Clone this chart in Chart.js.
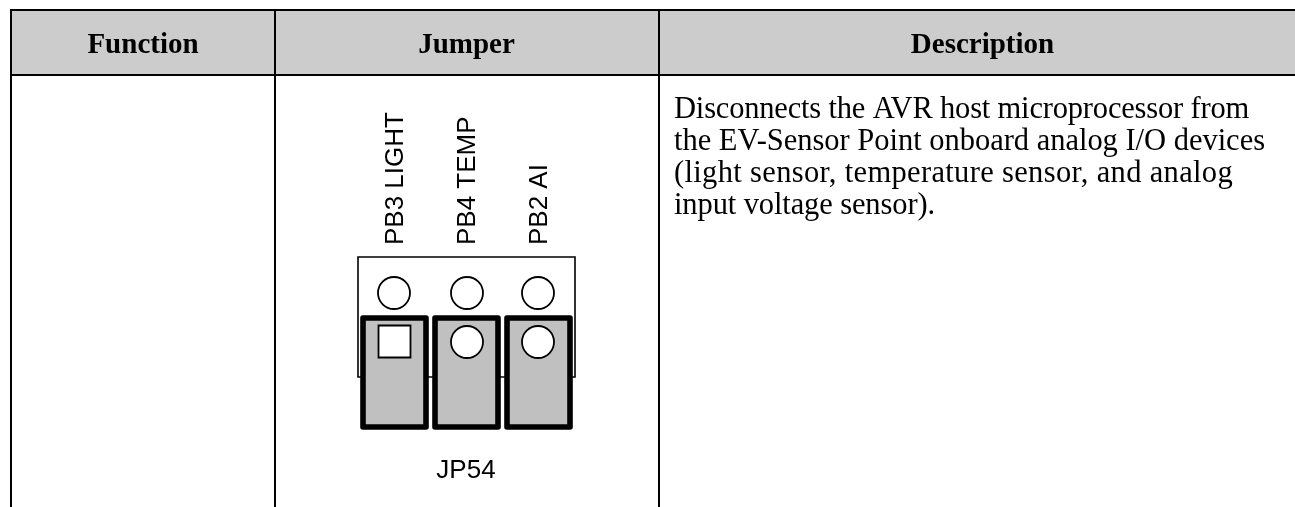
<!DOCTYPE html>
<html>
<head>
<meta charset="utf-8">
<style>html,body{margin:0;padding:0;background:#fff;overflow:hidden}canvas{display:block}</style>
<script src="https://cdn.jsdelivr.net/npm/chart.js@4"></script>
</head>
<body>
<canvas id="c" width="1295" height="507"></canvas>
<script>
const headerLabels = ["Function", "Jumper", "Description"];
const headerCentres = [143, 466.5, 982.5];
const pinLabels = ["PB3 LIGHT", "PB4 TEMP", "PB2 AI"];
const pinLabelBaseX = [403, 475, 547];
const descriptionLines = [
  "Disconnects the AVR host microprocessor from",
  "the EV-Sensor Point onboard analog I/O devices",
  "(light sensor, temperature sensor, and analog",
  "input voltage sensor)."
];
const descriptionBaselines = [118, 150, 182, 214];
const descriptionWidths = [575, 591, 559, 261];
const headerBand = [[11,10],[1295,10],[1295,75],[11,75],[11,10]];
const ruleTop = [[11,10],[1295,10]];
const ruleHeader = [[11,75],[1295,75]];
const ruleLeft = [[11,9],[11,507]];
const ruleMid1 = [[275,9],[275,507]];
const ruleMid2 = [[659,9],[659,507]];
const connector = [[450,257],[575,257],[575,377],[358,377],[358,257],[450,257]];
const upperPads = [[394,293],[467,293],[538,293]];
const shunt1 = [[394,318],[426,318],[426,427],[363,427],[363,318],[394,318]];
const shunt2 = [[466,318],[498,318],[498,427],[435,427],[435,318],[466,318]];
const shunt3 = [[538,318],[570,318],[570,427],[507,427],[507,318],[538,318]];
const lowerPads = [[467,342],[538,342]];
const squarePad = [[394.5,341.5]];

const pts = a => a.map(p => ({x:p[0], y:p[1]}));
const poly = (a, o) => Object.assign({data:pts(a), showLine:true, pointRadius:0, borderColor:'#000', borderWidth:2, fill:false, tension:0, clip:false}, o||{});
const marks = (a, o) => Object.assign({data:pts(a), showLine:false, pointStyle:'circle', pointRadius:16, pointBackgroundColor:'#fff', pointBorderColor:'#000', pointBorderWidth:1.8, clip:false}, o||{});
const drawOrder = [
  poly(headerBand, {fill:'shape', backgroundColor:'#cccccc', borderWidth:0}),
  poly(ruleTop), poly(ruleHeader), poly(ruleLeft), poly(ruleMid1), poly(ruleMid2),
  poly(connector, {fill:'shape', backgroundColor:'#fff', borderWidth:1.6}),
  marks(upperPads),
  poly(shunt1, {fill:'shape', backgroundColor:'#c0c0c0', borderWidth:5.6, borderJoinStyle:'round'}),
  poly(shunt2, {fill:'shape', backgroundColor:'#c0c0c0', borderWidth:5.6, borderJoinStyle:'round'}),
  poly(shunt3, {fill:'shape', backgroundColor:'#c0c0c0', borderWidth:5.6, borderJoinStyle:'round'}),
  marks(lowerPads),
  marks(squarePad, {pointStyle:'rect', pointRadius:22.6})
];
drawOrder.forEach((d,i) => { d.order = drawOrder.length - i; });

const textPlugin = {
  id:'tableText',
  afterDatasetsDraw(chart){
    const {ctx, scales:{x, y}} = chart;
    ctx.save();
    ctx.fillStyle = '#000';
    ctx.textBaseline = 'alphabetic';
    ctx.font = 'bold 29px "Liberation Serif"';
    ctx.textAlign = 'center';
    headerLabels.forEach((t,i) => ctx.fillText(t, x.getPixelForValue(headerCentres[i]), y.getPixelForValue(53)));
    ctx.textAlign = 'left';
    ctx.font = '30.5px "Liberation Serif"';
    descriptionLines.forEach((t,i) => {
      ctx.letterSpacing = '0px';
      const w = ctx.measureText(t).width;
      ctx.letterSpacing = ((descriptionWidths[i]-w)/t.length) + 'px';
      ctx.fillText(t, x.getPixelForValue(674), y.getPixelForValue(descriptionBaselines[i]));
    });
    ctx.letterSpacing = '0px';
    ctx.font = '26px "Liberation Sans"';
    ctx.textAlign = 'center';
    ctx.fillText('JP54', x.getPixelForValue(466), y.getPixelForValue(478));
    ctx.textAlign = 'left';
    pinLabels.forEach((t,i) => {
      ctx.save();
      ctx.translate(x.getPixelForValue(pinLabelBaseX[i]), y.getPixelForValue(245));
      ctx.rotate(-Math.PI/2);
      ctx.fillText(t, 0, 0);
      ctx.restore();
    });
    ctx.restore();
  }
};

new Chart(document.getElementById('c'), {
  type:'scatter',
  data:{datasets:drawOrder},
  plugins:[textPlugin],
  options:{
    responsive:false, animation:false, devicePixelRatio:1,
    layout:{padding:0, autoPadding:false},
    plugins:{legend:{display:false}, tooltip:{enabled:false}},
    events:[],
    scales:{
      x:{type:'linear', min:0, max:1295, display:false},
      y:{type:'linear', min:0, max:507, reverse:true, display:false}
    }
  }
});
</script>
</body>
</html>
